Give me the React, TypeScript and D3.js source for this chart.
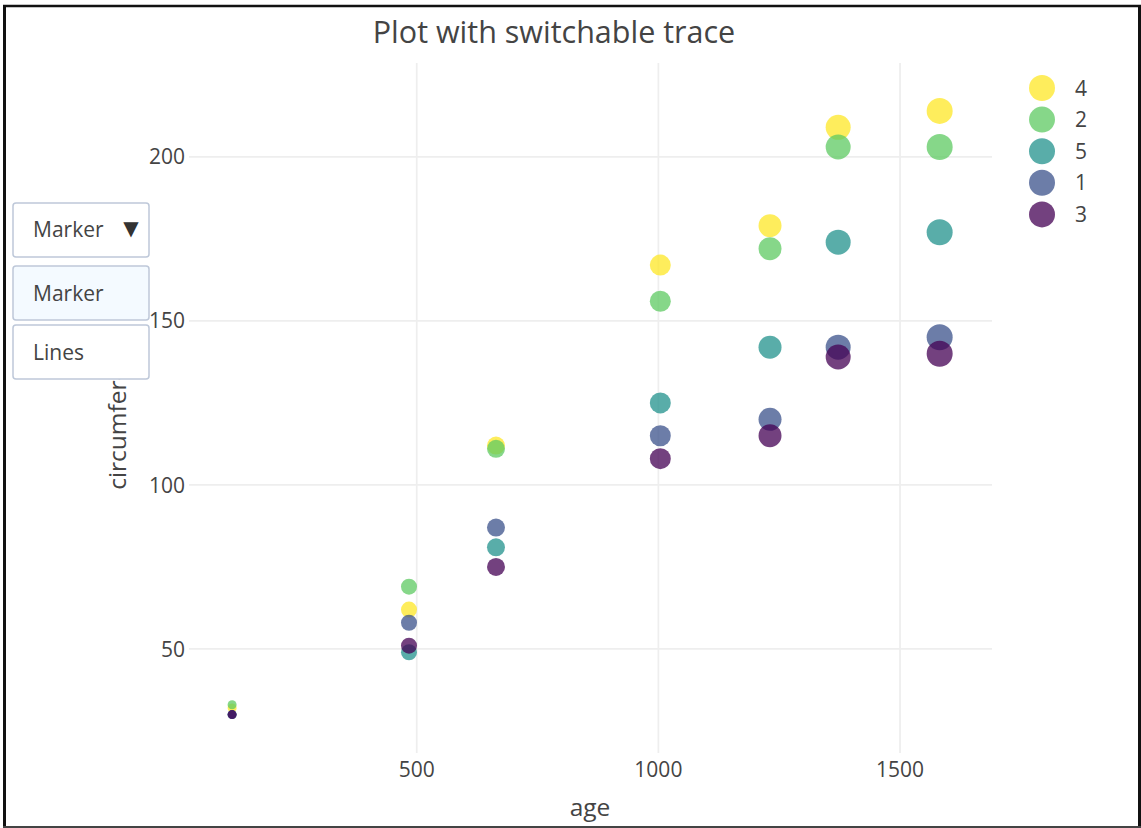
import React from "react";
import * as d3 from "d3";

const ages = [118, 484, 664, 1004, 1231, 1372, 1582];
const markerSizes = [9, 16, 18, 21, 23, 25, 26];
const traceNames = ["4", "2", "5", "1", "3"];
const traceColors = ["#fde725", "#5ec962", "#21918c", "#3b528b", "#440154"];
const tree4 = [32, 62, 112, 167, 179, 209, 214];
const tree2 = [33, 69, 111, 156, 172, 203, 203];
const tree5 = [30, 49, 81, 125, 142, 174, 177];
const tree1 = [30, 58, 87, 115, 120, 142, 145];
const tree3 = [30, 51, 75, 108, 115, 139, 140];
const seriesValues = [tree4, tree2, tree5, tree1, tree3];
const xTicks = [500, 1000, 1500];
const yTicks = [50, 100, 150, 200];
const menuItems = ["Marker", "Lines"];

const W = 1141;
const H = 828;
const plot = { left: 189, right: 992, top: 63, bottom: 753 };
const FONT = "'Open Sans', 'Noto Sans', sans-serif";
const TXT = "#444";

export default function App() {
  const x = d3.scaleLinear().domain([28.8, 1690.3]).range([plot.left, plot.right]);
  const y = d3.scaleLinear().domain([18.3, 228.6]).range([plot.bottom, plot.top]);

  return (
    <div style={{ position: "absolute", left: 0, top: 0 }}>
      <svg width={W} height={H} style={{ display: "block", background: "#fff" }}>
        <rect x={0} y={0} width={W} height={H} fill="#fff" />
        {/* grid */}
        {xTicks.map((t) => (
          <line key={"gx" + t} x1={x(t)} x2={x(t)} y1={plot.top} y2={plot.bottom} stroke="#eee" strokeWidth={1.75} />
        ))}
        {yTicks.map((t) => (
          <line key={"gy" + t} x1={plot.left} x2={plot.right} y1={y(t)} y2={y(t)} stroke="#eee" strokeWidth={1.75} />
        ))}
        {/* tick labels */}
        {xTicks.map((t) => (
          <text key={"tx" + t} x={x(t)} y={777} textAnchor="middle" fontFamily={FONT} fontSize={21} fill={TXT}>
            {t}
          </text>
        ))}
        {yTicks.map((t) => (
          <text key={"ty" + t} x={185} y={y(t)} dy="0.36em" textAnchor="end" fontFamily={FONT} fontSize={21} fill={TXT}>
            {t}
          </text>
        ))}
        {/* axis titles */}
        <text x={590} y={816} textAnchor="middle" fontFamily={FONT} fontSize={24.5} fill={TXT}>
          age
        </text>
        <text
          transform={`translate(126, ${(plot.top + plot.bottom) / 2}) rotate(-90)`}
          textAnchor="middle"
          fontFamily={FONT}
          fontSize={24.5}
          fill={TXT}
        >
          circumference
        </text>
        {/* points */}
        {seriesValues.map((vals, si) => (
          <g key={"s" + si}>
            {vals.map((v, i) => (
              <circle
                key={i}
                cx={x(ages[i])}
                cy={y(v)}
                r={markerSizes[i] / 2}
                fill={traceColors[si]}
                fillOpacity={0.75}
              />
            ))}
          </g>
        ))}
        {/* title */}
        <text x={554} y={43} textAnchor="middle" fontFamily={FONT} fontSize={30.5} fill={TXT}>
          Plot with switchable trace
        </text>
        {/* legend */}
        {traceNames.map((n, i) => (
          <g key={"l" + n} transform={`translate(1042, ${88 + i * 31.6})`}>
            <circle r={13} fill={traceColors[i]} fillOpacity={0.75} />
            <text x={33} dy="0.36em" fontFamily={FONT} fontSize={21} fill={TXT}>
              {n}
            </text>
          </g>
        ))}
        {/* dropdown */}
        <g>
          <rect x={13} y={203} width={136} height={54} rx={3} fill="#fff" stroke="#bec8d9" strokeWidth={1.5} />
          <text x={33} y={229} dy="0.36em" fontFamily={FONT} fontSize={21} fill={TXT}>
            {menuItems[0]}
          </text>
          <text x={131} y={228} dy="0.36em" textAnchor="middle" fontFamily="'DejaVu Sans', sans-serif" fontSize={20} fill="#333">
            ▼
          </text>
          {menuItems.map((m, i) => (
            <g key={"m" + m} transform={`translate(13, ${266 + i * 59})`}>
              <rect width={136} height={54} rx={3} fill={i === 0 ? "#f4faff" : "#fff"} stroke="#bec8d9" strokeWidth={1.5} />
              <text x={20} y={27} dy="0.36em" fontFamily={FONT} fontSize={21} fill={TXT}>
                {m}
              </text>
            </g>
          ))}
        </g>
        {/* frame */}
        <line x1={4.5} x2={4.5} y1={5} y2={828} stroke="#111" strokeWidth={3} />
        <line x1={3} x2={1141} y1={6} y2={6} stroke="#111" strokeWidth={2.5} />
        <line x1={1139.5} x2={1139.5} y1={5} y2={828} stroke="#111" strokeWidth={3} />
        <line x1={3} x2={1141} y1={827} y2={827} stroke="#444" strokeWidth={2} />
      </svg>
    </div>
  );
}
